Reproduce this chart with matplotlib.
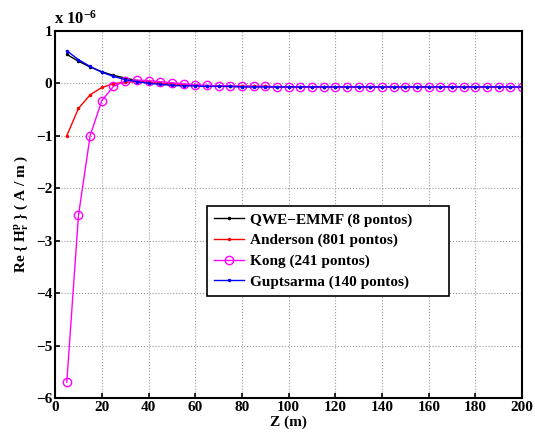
import matplotlib
matplotlib.use('Agg')
import matplotlib.pyplot as plt
import numpy as np

plt.rcParams['font.family'] = 'Liberation Serif'
plt.rcParams['font.weight'] = 'bold'
plt.rcParams['mathtext.fontset'] = 'custom'
plt.rcParams['mathtext.rm'] = 'Liberation Serif:bold'
plt.rcParams['mathtext.bf'] = 'Liberation Serif:bold'
plt.rcParams['mathtext.it'] = 'Liberation Serif:bold'

# Z positions (m)
z = np.arange(5, 205, 5)

# values in units of 1e-6 A/m
qwe = [0.55, 0.42, 0.31, 0.22, 0.15, 0.10, 0.05, 0.02, 0.00, -0.02,
       -0.03, -0.04, -0.05, -0.05, -0.06, -0.06, -0.06, -0.06, -0.07, -0.07] + [-0.07] * 20
anderson = [-1.00, -0.48, -0.22, -0.08, -0.01, 0.02, 0.03, 0.02, 0.00, -0.02,
            -0.03, -0.04, -0.05, -0.05, -0.06, -0.06, -0.06, -0.06, -0.07, -0.07] + [-0.07] * 20
kong = [-5.70, -2.52, -1.00, -0.33, -0.06, 0.04, 0.06, 0.05, 0.03, 0.01,
        -0.01, -0.03, -0.04, -0.05, -0.05, -0.06, -0.06, -0.06, -0.07, -0.07] + [-0.07] * 20
guptsarma = [0.62, 0.45, 0.32, 0.21, 0.13, 0.07, 0.03, 0.00, -0.02, -0.04,
             -0.05, -0.05, -0.06, -0.06, -0.06, -0.07, -0.07, -0.07, -0.07, -0.07] + [-0.07] * 20

fig = plt.figure(figsize=(5.35, 4.34), dpi=100)
ax = fig.add_axes([0.103, 0.083, 0.873, 0.846])

ax.plot(z, qwe, color='black', marker='.', markersize=3, linewidth=1, label='QWE\u2212EMMF (8 pontos)')
ax.plot(z, anderson, color='red', marker='.', markersize=3, linewidth=1, label='Anderson (801 pontos)')
ax.plot(z, kong, color='magenta', marker='o', markersize=6, markerfacecolor='none',
        linewidth=1, label='Kong (241 pontos)')
ax.plot(z, guptsarma, color='blue', marker='.', markersize=3, linewidth=1, label='Guptsarma (140 pontos)')

ax.set_xlim(0, 200)
ax.set_ylim(-6, 1)
ax.set_xticks(np.arange(0, 201, 20))
ax.set_yticks(np.arange(-6, 2, 1))
ax.grid(True, linestyle=':', color='#999999', linewidth=0.8)
ax.tick_params(direction='in', labelsize=11, width=1.2, pad=2)
for lab in ax.get_xticklabels() + ax.get_yticklabels():
    lab.set_fontweight('bold')
for s in ax.spines.values():
    s.set_linewidth(1.5)

ax.set_xlabel('Z (m)', fontsize=11, fontweight='bold', labelpad=1)
ax.set_ylabel(r'Re { $\mathrm{H}_{\mathrm{r}}^{\mathrm{p}}$ } ( A / m )', fontsize=11,
              fontweight='bold', labelpad=4)
fig.text(0.1, 0.945, r'x 10$^{-6}$', fontsize=12, fontweight='bold')

leg = ax.legend(loc='upper left', bbox_to_anchor=(0.325, 0.272, 0.518, 0.251), mode='expand',
                borderaxespad=0, fontsize=11, frameon=True,
                fancybox=False, edgecolor='black', framealpha=1, handlelength=2.0,
                borderpad=0.45, labelspacing=0.45, handletextpad=0.35)
leg.get_frame().set_linewidth(1.2)
for t in leg.get_texts():
    t.set_fontweight('bold')

fig.savefig('out.png', dpi=100)
